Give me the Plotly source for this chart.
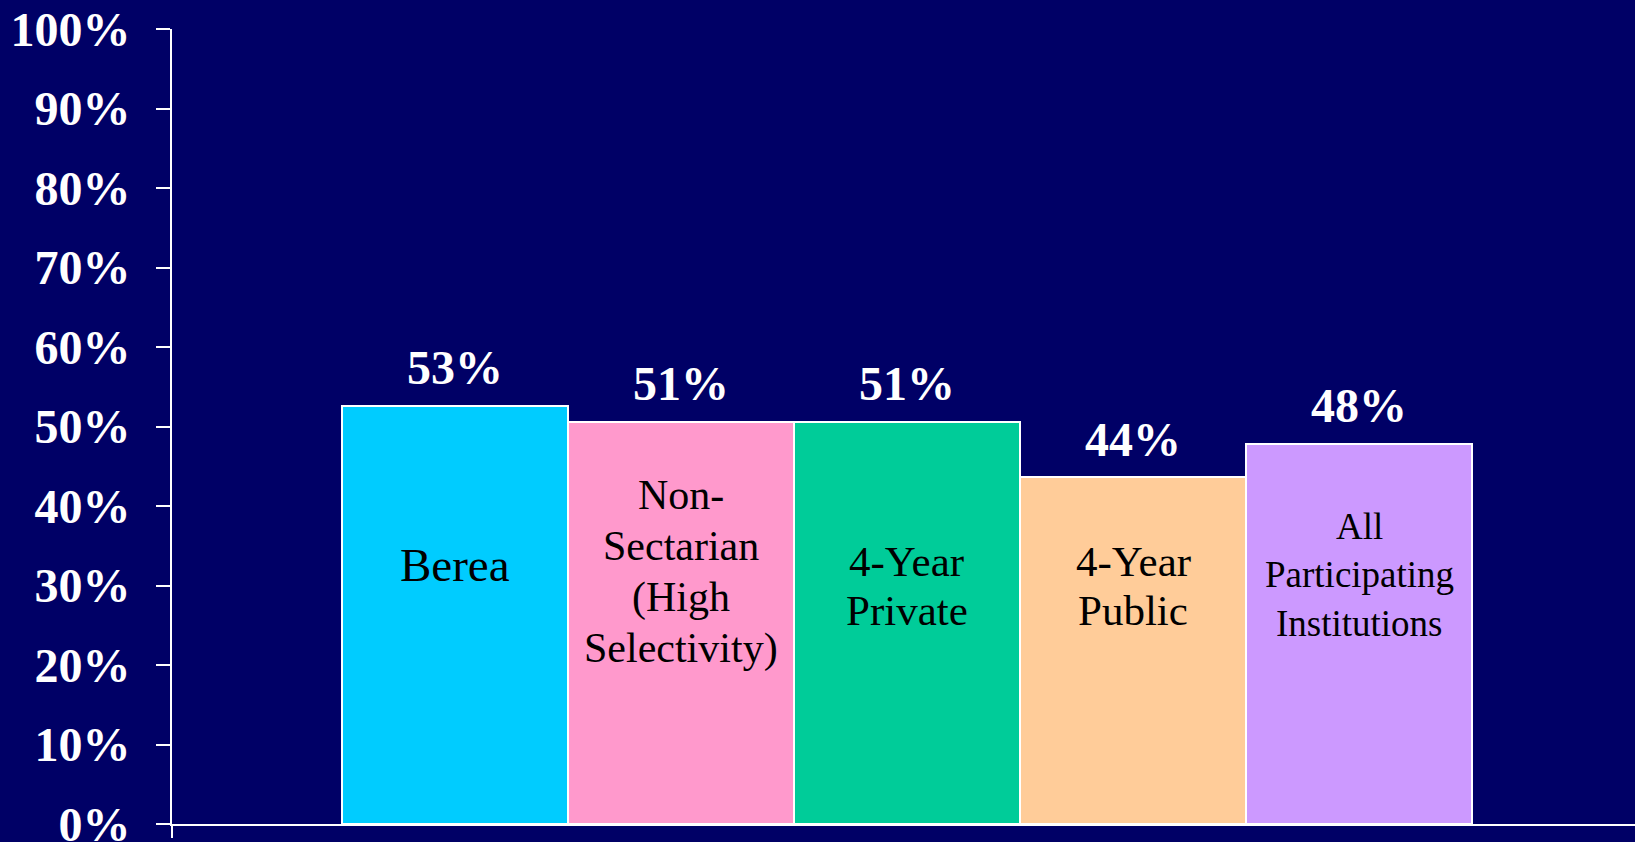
import plotly.graph_objects as go

categories = ["Berea", "Non-<br>Sectarian<br>(High<br>Selectivity)", "4-Year<br>Private",
              "4-Year<br>Public", "All<br>Participating<br>Institutions"]
values = [52.6, 50.6, 50.6, 43.6, 47.8]
colors = ["#00CCFF", "#FF99CC", "#00CC99", "#FFCC99", "#CC99FF"]
tick_values = [0, 10, 20, 30, 40, 50, 60, 70, 80, 90, 100]
tick_labels = [f"{t}%" for t in tick_values]

# style only: in-bar label font size, vertical centre (axis units) and line gap (px)
label_sizes = [47, 42, 43, 43, 37]
label_centres = [33.1, 32.25, 30.45, 30.45, 31.87]
label_gaps = [49, 51, 49, 49, 48.5]

BG = "#000066"
SERIF = "Liberation Serif, Times New Roman, serif"

xs = list(range(len(categories)))

fig = go.Figure()
fig.add_trace(go.Bar(
    x=xs, y=values, width=1.0,
    marker=dict(color=colors, line=dict(color="white", width=2)),
    hoverinfo="skip", showlegend=False,
))

annotations = []
for i, v in enumerate(values):
    annotations.append(dict(
        x=i, y=v, xref="x", yref="y", text=f"{v:.0f}%", showarrow=False,
        yanchor="middle", yshift=38,
        font=dict(family=SERIF, size=48, color="white", weight="bold"),
    ))
    lines = categories[i].split("<br>")
    n = len(lines)
    for j, line in enumerate(lines):
        annotations.append(dict(
            x=i, y=label_centres[i], xref="x", yref="y", text=line, showarrow=False,
            yanchor="middle", yshift=-(j - (n - 1) / 2) * label_gaps[i] - 4,
            font=dict(family=SERIF, size=label_sizes[i], color="black"),
        ))

fig.update_layout(
    width=1635, height=842,
    margin=dict(l=172, r=0, t=29, b=18, autoexpand=False),
    paper_bgcolor=BG, plot_bgcolor=BG,
    bargap=0,
    annotations=annotations,
    shapes=[dict(type="line", xref="paper", yref="paper", x0=0, x1=0,
                 y0=0, y1=-14 / 795, line=dict(color="white", width=2))],
)
fig.update_xaxes(range=[-1.25, 5.22], showticklabels=False, showgrid=False,
                 zeroline=False, showline=True, linecolor="white", linewidth=2, ticks="",
                 automargin=False)
fig.update_yaxes(range=[0, 100], tickmode="array", tickvals=tick_values, ticktext=tick_labels,
                 showgrid=False, zeroline=False, showline=True, linecolor="white",
                 linewidth=2, ticks="outside", ticklen=14, tickwidth=2, tickcolor="white",
                 ticklabelstandoff=16, automargin=False, ticklabeloverflow="allow",
                 tickfont=dict(family=SERIF, size=48, color="white", weight="bold"))

fig.write_html("out.html", config={"displayModeBar": False},
               post_script="document.body.style.margin='0';document.body.style.background='#000066';")
